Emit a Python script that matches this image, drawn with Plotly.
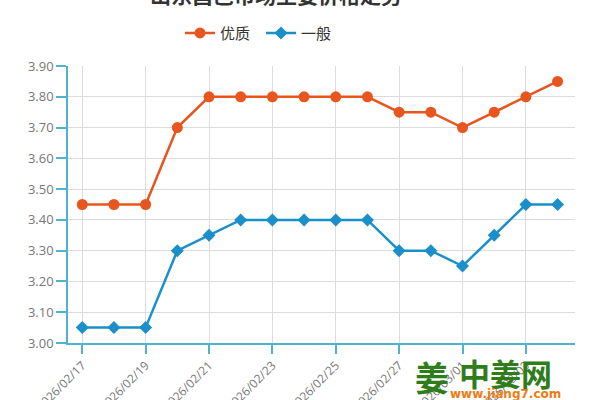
import plotly.graph_objects as go

# ── Data ───────────────────────────────────────────────────────────────────────
dates = [
    "2026/02/17", "2026/02/18", "2026/02/19", "2026/02/20",
    "2026/02/21", "2026/02/22", "2026/02/23", "2026/02/24",
    "2026/02/25", "2026/02/26", "2026/02/27", "2026/02/28",
    "2026/03/01", "2026/03/02", "2026/03/03", "2026/03/04",
]
premium = [3.45, 3.45, 3.45, 3.70, 3.80, 3.80, 3.80, 3.80,
           3.80, 3.80, 3.75, 3.75, 3.70, 3.75, 3.80, 3.85]
ordinary = [3.05, 3.05, 3.05, 3.30, 3.35, 3.40, 3.40, 3.40,
            3.40, 3.40, 3.30, 3.30, 3.25, 3.35, 3.45, 3.45]
y_ticks = [3.00, 3.10, 3.20, 3.30, 3.40, 3.50, 3.60, 3.70, 3.80, 3.90]

ORANGE = "#e8561f"
BLUE = "#1a8fc9"
AXIS = "#4db3cf"
CJK = "Noto Sans CJK SC"

fig = go.Figure()
fig.add_trace(go.Scatter(
    x=dates, y=premium, name="优质", mode="lines+markers",
    line=dict(color=ORANGE, width=2.5),
    marker=dict(symbol="circle", size=11, color=ORANGE),
))
fig.add_trace(go.Scatter(
    x=dates, y=ordinary, name="一般", mode="lines+markers",
    line=dict(color=BLUE, width=2.5),
    marker=dict(symbol="diamond", size=10, color=BLUE),
))

fig.update_layout(
    width=600, height=400,
    margin=dict(l=68, r=25, t=66, b=57, autoexpand=False),
    paper_bgcolor="white", plot_bgcolor="white",
    font=dict(family="Open Sans", color="#777"),
    showlegend=True,
    legend=dict(
        orientation="h", xref="container", x=0.30, xanchor="left",
        yref="container", y=0.917, yanchor="middle",
        font=dict(family=CJK, size=15, color="#333"),
        itemwidth=30, entrywidth=36, traceorder="normal",
    ),
)

fig.update_xaxes(
    type="category", range=[-0.45, 15.55], automargin=False,
    tickvals=dates[::2], ticktext=dates[::2],
    tickangle=-45, tickfont=dict(size=12, color="#777"),
    ticks="outside", ticklen=9, tickcolor=AXIS, tickwidth=1.5,
    showline=True, linecolor=AXIS, linewidth=1.5,
    showgrid=True, gridcolor="#dcdcdc", gridwidth=1.2,
    zeroline=False,
)
fig.update_yaxes(
    range=[3.0, 3.9], tickvals=y_ticks, tickformat=".2f", automargin=False,
    tickfont=dict(size=13, color="#777"),
    ticks="outside", ticklen=10, tickcolor=AXIS, tickwidth=1.5,
    showline=True, linecolor=AXIS, linewidth=1.5,
    showgrid=True, gridcolor="#dcdcdc", gridwidth=1.2,
    zeroline=False,
)

# title, mostly cut off at the top edge
fig.add_annotation(
    text="<b>山东昌邑市场生姜价格走势</b>", xref="paper", yref="paper",
    x=0.41, y=1.0, yshift=72, yanchor="middle", showarrow=False,
    font=dict(family=CJK, size=21, color="#333"),
)

# watermark
fig.add_annotation(
    text="<b>姜</b>", xref="paper", yref="paper",
    x=0.718, y=-0.12, xanchor="center", yanchor="middle",
    showarrow=False, font=dict(family=CJK, size=34, color="#2e7d1a"),
)
fig.add_annotation(
    text="<b>中姜网</b>", xref="paper", yref="paper",
    x=0.862, y=-0.105, xanchor="center", yanchor="middle",
    showarrow=False, font=dict(family=CJK, size=31, color="#2e7d1a"),
)
fig.add_annotation(
    text="<b>www.jiang7.com</b>", xref="paper", yref="paper",
    x=0.862, y=-0.185, xanchor="center", yanchor="middle",
    showarrow=False, font=dict(family="DejaVu Sans", size=12, color="#f07a12"),
)

fig.write_html("out.html", config={"displayModeBar": False},
               post_script="document.body.style.margin='0';")
